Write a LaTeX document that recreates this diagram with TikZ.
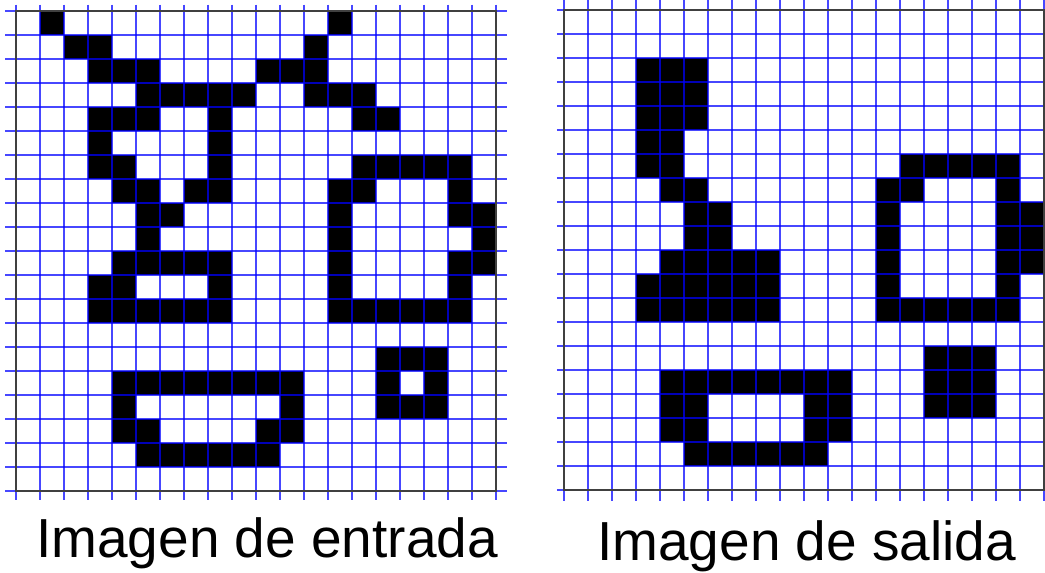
\documentclass[tikz,border=0pt]{standalone}
\usepackage{fontspec}
\usepackage{tikz}
\usepackage{xcolor}
\setmainfont{Liberation Sans}

\tikzset{
  pixel/.style={fill=black},
  gridline/.style={blue, opacity=0.72, line width=1.9pt},
  border/.style={black!75, line width=2pt},
  caption/.style={inner sep=0pt, anchor=base west, font=\fontsize{55}{60}\selectfont}
}

\begin{document}
\begin{tikzpicture}[x=1pt, y=-1pt]

		% Fix the page size to the picture
		\useasboundingbox (0,0) rectangle (1045,573);

		% Input image (left grid)
		\begin{scope}[shift={(16pt,-10.7pt)}, x=24pt, y=-24pt]
			% Black pixels, one run per row: row/first/last
			\foreach \r/\a/\b in {0/1/1, 0/13/13, 1/2/3, 1/12/12, 2/3/5, 2/10/12,
				3/5/9, 3/12/14, 4/3/5, 4/8/8, 4/14/15, 5/3/3, 5/8/8,
				6/3/4, 6/8/8, 6/14/18, 7/4/5, 7/7/8, 7/13/14, 7/18/18,
				8/5/6, 8/13/13, 8/18/19, 9/5/5, 9/13/13, 9/19/19,
				10/4/8, 10/13/13, 10/18/19, 11/3/4, 11/8/8, 11/13/13, 11/18/18,
				12/3/8, 12/13/18, 14/15/17, 15/4/11, 15/15/15, 15/17/17,
				16/4/4, 16/11/11, 16/15/17, 17/4/5, 17/10/11, 18/5/10}
				\fill[pixel] (\a,\r) rectangle ({\b+1},{\r+1});
			
			% Grid lines
			\foreach \i in {0,...,20} {
				\draw[gridline] (\i,-0.25) -- (\i,20.4);
				\draw[gridline] (-0.45,\i) -- (20.45,\i);
			}
			\draw[border] (0,0) rectangle (20,20);
		\end{scope}

		% Output image (right grid)
		\begin{scope}[shift={(564pt,-10pt)}, x=24pt, y=-24pt]
			% Black pixels, one run per row: row/first/last
			\foreach \r/\a/\b in {2/3/5, 3/3/5, 4/3/5, 5/3/4, 6/3/4, 6/14/18,
				7/4/5, 7/13/14, 7/18/18, 8/5/6, 8/13/13, 8/18/19,
				9/5/6, 9/13/13, 9/18/19, 10/4/8, 10/13/13, 10/18/19,
				11/3/8, 11/13/13, 11/18/18, 12/3/8, 12/13/18, 14/15/17,
				15/4/11, 15/15/17, 16/4/5, 16/10/11, 16/15/17,
				17/4/5, 17/10/11, 18/5/10}
				\fill[pixel] (\a,\r) rectangle ({\b+1},{\r+1});
			
			% Grid lines
			\foreach \i in {0,...,20} {
				\draw[gridline] (\i,-0.45) -- (\i,20.45);
				\draw[gridline] (-0.3,\i) -- (20.3,\i);
			}
			\draw[border] (0,0) rectangle (20,20);
		\end{scope}

		% Captions
		\node[caption] (entrada) at (36,557.7) {Imagen de entrada};
		\node[caption] (salida) at (597,560) {Imagen de salida};

	\end{tikzpicture}
\end{document}
